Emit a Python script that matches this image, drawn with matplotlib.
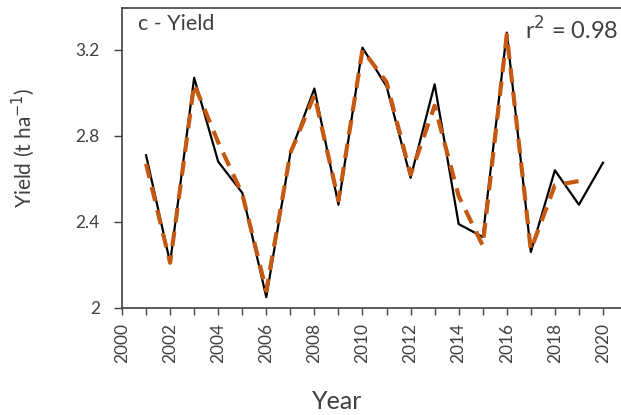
import matplotlib.pyplot as plt
from matplotlib.ticker import MultipleLocator

# observed yield (black) and modelled yield (orange dashed), t/ha
years_obs = [2001, 2002, 2003, 2004, 2005, 2006, 2007, 2008, 2009, 2010,
             2011, 2012, 2013, 2014, 2015, 2016, 2017, 2018, 2019, 2020]
yield_obs = [2.71, 2.21, 3.07, 2.68, 2.535, 2.05, 2.72, 3.02, 2.48, 3.21,
             3.03, 2.605, 3.04, 2.39, 2.33, 3.28, 2.26, 2.64, 2.48, 2.675]

years_mod = [2001, 2002, 2003, 2004, 2005, 2006, 2007, 2008, 2009, 2010,
             2011, 2012, 2013, 2014, 2015, 2016, 2017, 2018, 2019]
yield_mod = [2.67, 2.21, 3.04, 2.77, 2.53, 2.08, 2.72, 2.99, 2.50, 3.20,
             3.05, 2.62, 2.94, 2.52, 2.29, 3.27, 2.27, 2.57, 2.59]

x_ticks = list(range(2000, 2021, 2))
y_ticks = [2, 2.4, 2.8, 3.2]
y_tick_labels = ["2", "2.4", "2.8", "3.2"]

plt.rcParams["font.family"] = ["Lato", "DejaVu Sans"]
txt = "#404040"

fig = plt.figure(figsize=(6.21, 4.15), dpi=100)
ax = fig.add_axes([0.1965, 0.258, 0.8035, 0.723])

ax.plot(years_obs, yield_obs, color="black", lw=1.6, zorder=2)
ax.plot(years_mod, yield_mod, color="#C65911", lw=3, ls=(0, (3.5, 2.2)), zorder=3)

ax.set_xlim(2000, 2020.75)
ax.set_ylim(2, 3.395)
ax.set_xticks(x_ticks)
ax.set_xticklabels([str(y) for y in x_ticks], rotation=90)
ax.xaxis.set_minor_locator(MultipleLocator(1))
ax.set_yticks(y_ticks)
ax.set_yticklabels(y_tick_labels)

ax.tick_params(axis="both", which="both", direction="out", width=1,
               color="#404040", labelcolor=txt, labelsize=12.5)
ax.tick_params(axis="x", which="both", length=5, pad=6)
ax.tick_params(axis="y", which="both", length=6, pad=10)
ax.spines["right"].set_visible(False)
for s in ["left", "bottom", "top"]:
    ax.spines[s].set_color("#404040")
    ax.spines[s].set_linewidth(1.2)

ax.set_xlabel("Year", fontsize=18, color=txt)
ax.xaxis.set_label_coords(0.431, -0.273)
ax.set_ylabel("Yield (t ha$^{-1}$)", fontsize=15, color=txt)
ax.yaxis.set_label_coords(-0.17, 0.535)

ax.text(0.032, 0.978, "c - Yield", transform=ax.transAxes, fontsize=15.5,
        color=txt, va="top", ha="left")
ax.text(0.994, 0.97, "r$^2$ = 0.98", transform=ax.transAxes, fontsize=17,
        color=txt, va="top", ha="right")

plt.savefig("out.png", dpi=100)
plt.close()
